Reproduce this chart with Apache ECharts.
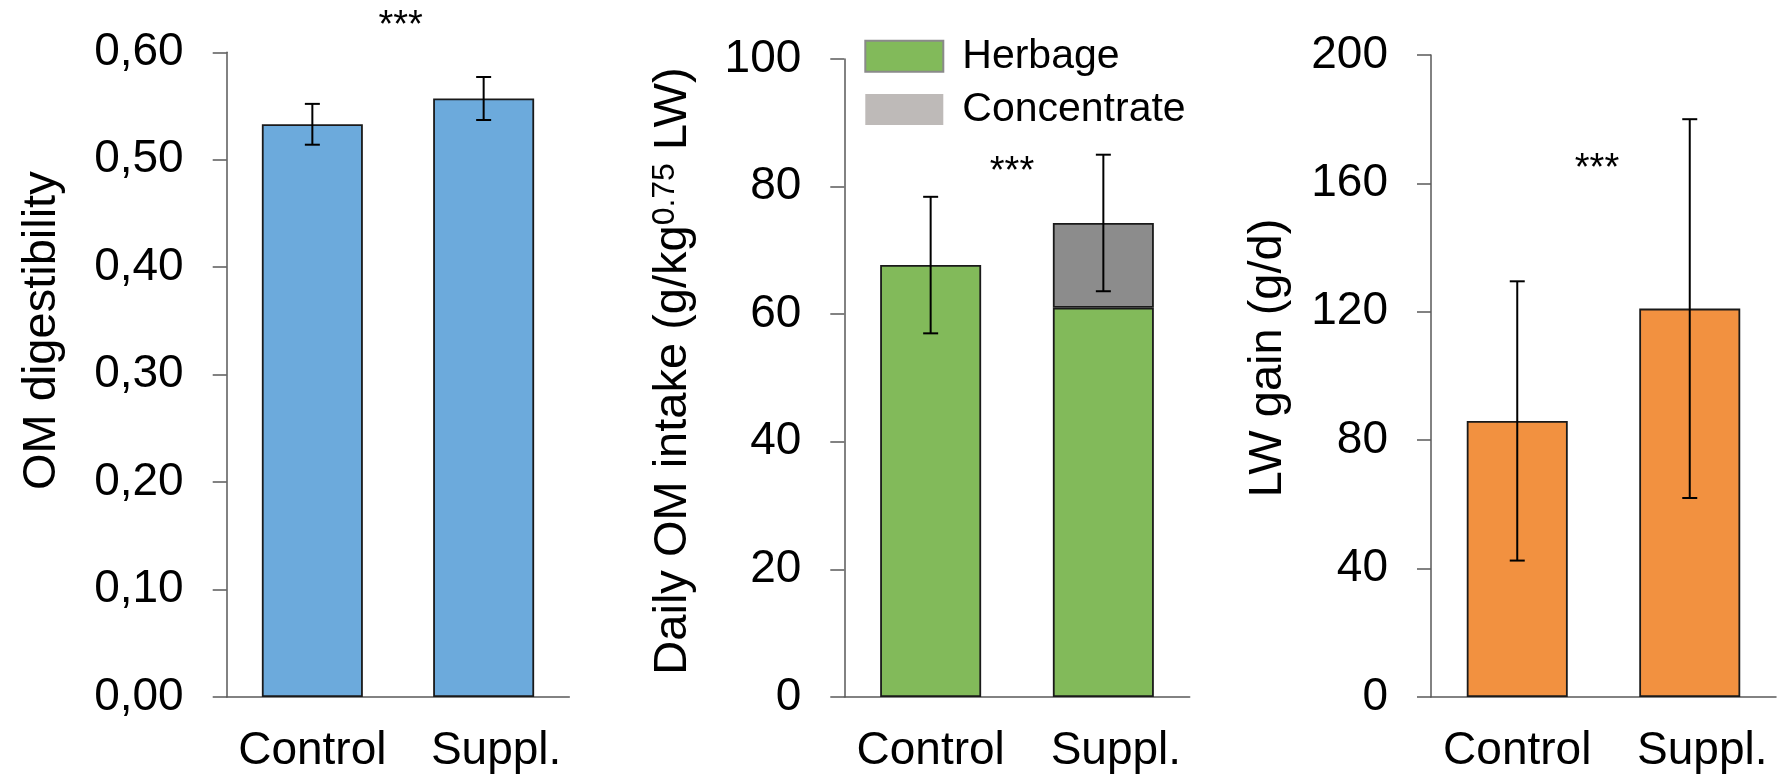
<!DOCTYPE html>
<html>
<head>
<meta charset="utf-8">
<script src="https://cdn.jsdelivr.net/npm/echarts@6/dist/echarts.min.js"></script>
<style>html,body{margin:0;padding:0;background:#fff}#c{width:1778px;height:774px}</style>
</head>
<body>
<div id="c"></div>
<script>
// ---- data ----
const categories = ['Control', 'Suppl.'];
const digestibility = [0.533, 0.557];
const digestibilityErr = [0.019, 0.020];
const herbage = [67.7, 61.0];
const concentrate = [null, 13.3];
const intakeErr = [10.7, 10.7];
const gain = [86, 121];
const gainErr = [43.5, 59];
const digestTicks = { min: 0, max: 0.6, interval: 0.1 };
const intakeTicks = { min: 0, max: 100, interval: 20 };
const gainTicks = { min: 0, max: 200, interval: 40 };

const FONT = 'Liberation Sans, Arial, Helvetica, sans-serif';
const AXIS_COLOR = '#595959';

const chart = echarts.init(document.getElementById('c'));

function errRender(params, api) {
  const x = api.value(0), y = api.value(1), e = api.value(2);
  const top = api.coord([x, y + e]);
  const bot = api.coord([x, y - e]);
  const h = 7.5;
  const st = { stroke: '#000', lineWidth: 2 };
  return {
    type: 'group',
    children: [
      { type: 'line', shape: { x1: top[0], y1: top[1], x2: bot[0], y2: bot[1] }, style: st },
      { type: 'line', shape: { x1: top[0] - h, y1: top[1], x2: top[0] + h, y2: top[1] }, style: st },
      { type: 'line', shape: { x1: bot[0] - h, y1: bot[1], x2: bot[0] + h, y2: bot[1] }, style: st }
    ]
  };
}

function yAxis(idx, ticks, fmt, name, gap, pad, rich) {
  const o = {
    gridIndex: idx, type: 'value',
    min: ticks.min, max: ticks.max, interval: ticks.interval,
    axisLine: { show: true, lineStyle: { color: AXIS_COLOR, width: 1.5 } },
    axisTick: { show: true, length: 14, lineStyle: { color: AXIS_COLOR, width: 1.5 } },
    splitLine: { show: false },
    axisLabel: { fontSize: 46, color: '#000', fontFamily: FONT, margin: 43, formatter: fmt },
    name: name, nameLocation: 'middle', nameGap: gap, nameRotate: 90,
    nameTextStyle: { fontSize: 47, color: '#000', fontFamily: FONT, padding: pad }
  };
  if (rich) o.nameTextStyle.rich = rich;
  return o;
}

function xAxis(idx) {
  return {
    gridIndex: idx, type: 'category',
    // second category label sits slightly right of its bar in the original
    data: categories.map((c, i) => i === 0 ? c : { value: c, textStyle: { padding: [0, 0, 0, 25] } }),
    axisLine: { show: true, lineStyle: { color: AXIS_COLOR, width: 1.5 } },
    axisTick: { show: false },
    axisLabel: { fontSize: 46, color: '#000', fontFamily: FONT, margin: 31, interval: 0, hideOverlap: false }
  };
}

const barBase = { type: 'bar', barWidth: 101, animation: false };
const border = { borderColor: '#1a1a1a', borderWidth: 1.8 };

const intakeTotal = herbage.map((h, i) => h + (concentrate[i] || 0));

const option = {
  animation: false,
  backgroundColor: '#fff',
  textStyle: { fontFamily: FONT },
  grid: [
    { left: 226.7, top: 52.3, width: 342.6, height: 646 },
    { left: 844.3, top: 59, width: 345.4, height: 640.3 },
    { left: 1431, top: 55, width: 345, height: 644.3 }
  ],
  xAxis: [xAxis(0), xAxis(1), xAxis(2)],
  yAxis: [
    yAxis(0, digestTicks, v => v.toFixed(2).replace('.', ','), 'OM digestibility', 161, [0, 0, 0, 88]),
    yAxis(1, intakeTicks, v => String(Math.round(v)),
      '{a|Daily OM intake (g/kg}{s|0.75}{a| LW)}', 148, [0, 0, 0, 14],
      { a: { fontSize: 47, fontFamily: FONT, color: '#000' },
        s: { fontSize: 32, fontFamily: FONT, color: '#000', verticalAlign: 'top' } }),
    yAxis(2, gainTicks, v => String(Math.round(v)), 'LW gain (g/d)', 139, [0, 0, 0, 36])
  ],
  legend: {
    orient: 'vertical', left: 864.3, top: 35.2, padding: 0,
    itemWidth: 78, itemHeight: 31, itemGap: 11.3, icon: 'rect',
    selectedMode: false,
    textStyle: { fontSize: 41, color: '#000', fontFamily: FONT, lineHeight: 42, padding: [0, 0, 0, 14] },
    data: [
      { name: 'Herbage', itemStyle: { color: '#82BA5A', borderColor: '#8a8a8a', borderWidth: 2 } },
      { name: 'Concentrate', itemStyle: { color: '#BEBAB8', borderWidth: 0 } }
    ]
  },
  series: [
    Object.assign({}, barBase, { name: 'OM digestibility', xAxisIndex: 0, yAxisIndex: 0, data: digestibility,
      itemStyle: Object.assign({ color: '#6CAADC' }, border) }),
    { type: 'custom', xAxisIndex: 0, yAxisIndex: 0, z: 10, renderItem: errRender, encode: { x: 0, y: 1 },
      data: digestibility.map((v, i) => [i, v, digestibilityErr[i]]) },

    Object.assign({}, barBase, { name: 'Herbage', stack: 'intake', xAxisIndex: 1, yAxisIndex: 1, data: herbage,
      itemStyle: Object.assign({ color: '#82BA5A' }, border) }),
    Object.assign({}, barBase, { name: 'Concentrate', stack: 'intake', xAxisIndex: 1, yAxisIndex: 1, data: concentrate,
      itemStyle: Object.assign({ color: '#8C8C8C' }, border) }),
    { type: 'custom', xAxisIndex: 1, yAxisIndex: 1, z: 10, renderItem: errRender, encode: { x: 0, y: 1 },
      data: intakeTotal.map((v, i) => [i, v, intakeErr[i]]) },

    Object.assign({}, barBase, { name: 'LW gain', xAxisIndex: 2, yAxisIndex: 2, data: gain,
      itemStyle: Object.assign({ color: '#F29140' }, border) }),
    { type: 'custom', xAxisIndex: 2, yAxisIndex: 2, z: 10, renderItem: errRender, encode: { x: 0, y: 1 },
      data: gain.map((v, i) => [i, v, gainErr[i]]) }
  ],
  graphic: [
    { type: 'text', x: 400.7, y: 26.5, style: { text: '***', fontSize: 38, fontFamily: FONT, fill: '#000', align: 'center', verticalAlign: 'middle' } },
    { type: 'text', x: 1012, y: 172.5, style: { text: '***', fontSize: 38, fontFamily: FONT, fill: '#000', align: 'center', verticalAlign: 'middle' } },
    { type: 'text', x: 1597, y: 169.5, style: { text: '***', fontSize: 38, fontFamily: FONT, fill: '#000', align: 'center', verticalAlign: 'middle' } }
  ]
};

chart.setOption(option);
</script>
</body>
</html>
